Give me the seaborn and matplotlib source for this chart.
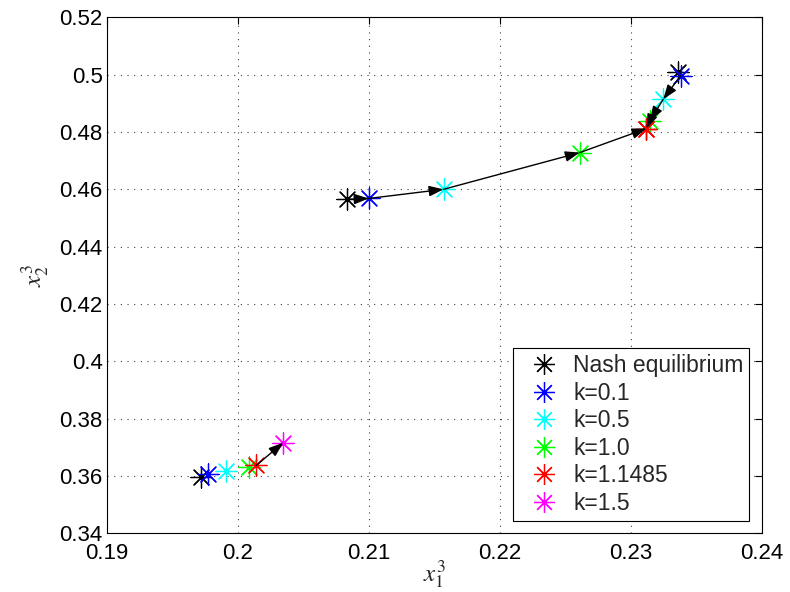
import numpy as np
import pandas as pd
import seaborn as sns
import matplotlib
matplotlib.use("Agg")
import matplotlib.pyplot as plt
from matplotlib.lines import Line2D

# ---- data (three trajectories: lower, middle, upper) ----
nash_x = [0.19716, 0.20835, 0.23360]
nash_y = [0.3598, 0.4565, 0.5008]
k01_x = [0.19775, 0.20998, 0.23378]
k01_y = [0.3606, 0.4568, 0.4996]
k05_x = [0.19912, 0.21570, 0.23246]
k05_y = [0.3617, 0.4600, 0.4914]
k10_x = [0.20086, 0.22609, 0.23144]
k10_y = [0.3631, 0.4728, 0.4839]
k11485_x = [0.20141, 0.23118, 0.23118]
k11485_y = [0.3637, 0.4812, 0.4812]
k15_x = [0.20346, np.nan, np.nan]
k15_y = [0.3716, np.nan, np.nan]

labels = ["Nash equilibrium", "k=0.1", "k=0.5", "k=1.0", "k=1.1485", "k=1.5"]
colors = ["#000000", "#0000ff", "#00ffff", "#00ff00", "#ff0000", "#ff00ff"]
series_x = [nash_x, k01_x, k05_x, k10_x, k11485_x, k15_x]
series_y = [nash_y, k01_y, k05_y, k10_y, k11485_y, k15_y]

# arrows drawn between consecutive points (index pairs into the series list), per trajectory
arrows_lower = [(4, 5)]
arrows_middle = [(0, 1), (1, 2), (2, 3), (3, 4)]
arrows_upper = [(1, 2), (2, 3), (3, 4)]
arrow_sets = [arrows_lower, arrows_middle, arrows_upper]

x_ticks = [0.19, 0.20, 0.21, 0.22, 0.23, 0.24]
x_ticklabels = ["0.19", "0.2", "0.21", "0.22", "0.23", "0.24"]
y_ticks = [0.34, 0.36, 0.38, 0.40, 0.42, 0.44, 0.46, 0.48, 0.50, 0.52]
y_ticklabels = ["0.34", "0.36", "0.38", "0.4", "0.42", "0.44", "0.46", "0.48", "0.5", "0.52"]

rows = []
for si, (lab, xs, ys) in enumerate(zip(labels, series_x, series_y)):
    for traj, (xv, yv) in enumerate(zip(xs, ys)):
        rows.append({"label": lab, "series": si, "traj": traj, "x": xv, "y": yv})
df = pd.DataFrame(rows)

# ---- style ----
sns.set_theme(style="white")
plt.rcParams["font.family"] = ["Liberation Sans", "DejaVu Sans"]
plt.rcParams["mathtext.fontset"] = "stix"

fig = plt.figure(figsize=(7.9, 5.92), dpi=100)
ax = fig.add_axes([0.1351, 0.0991, 0.9646 - 0.1351, 0.9708 - 0.0991])

star = (8, 2, 0)
for lab, col in zip(labels, colors):
    sub = df[df["label"] == lab].dropna()
    sns.scatterplot(data=sub, x="x", y="y", ax=ax, marker=star, s=230,
                    color=col, linewidth=0.9, legend=False, zorder=3)

for traj, segs in enumerate(arrow_sets):
    sub = df[df["traj"] == traj].set_index("series")
    for a, b in segs:
        x0, y0 = sub.loc[a, "x"], sub.loc[a, "y"]
        x1, y1 = sub.loc[b, "x"], sub.loc[b, "y"]
        ax.annotate("", xy=(x1, y1), xytext=(x0, y0),
                    arrowprops=dict(arrowstyle="-|>,head_length=0.55,head_width=0.2",
                                    color="black", lw=1.0,
                                    mutation_scale=16, shrinkA=0, shrinkB=0),
                    zorder=5)

ax.set_xlim(0.19, 0.24)
ax.set_ylim(0.34, 0.52)
ax.set_xticks(x_ticks)
ax.set_xticklabels(x_ticklabels)
ax.set_yticks(y_ticks)
ax.set_yticklabels(y_ticklabels)
ax.tick_params(axis="both", which="both", direction="in", length=5, width=0.8,
               top=True, right=True, labelsize=16, colors="black")
ax.tick_params(axis="x", pad=7)
ax.tick_params(axis="y", pad=3)
ax.grid(True, linestyle=(0, (1, 5)), color="black", linewidth=0.8, alpha=0.75)
for sp in ax.spines.values():
    sp.set_color("black")
    sp.set_linewidth(0.8)
    sp.set_visible(True)

ax.set_xlabel(r"$x_{\mathit{1}}^{3}$", fontsize=18, labelpad=-4)
ax.set_ylabel(r"$x_{\mathit{2}}^{3}$", fontsize=18, labelpad=6)

handles = [Line2D([], [], linestyle="none", marker=star, markersize=15,
                  markeredgewidth=0.9, color=c) for c in colors]
leg = ax.legend(handles, labels, loc="lower right", fontsize=16.5,
                frameon=True, fancybox=False, framealpha=1, edgecolor="black",
                borderpad=0.25, labelspacing=0.2, handlelength=2.2,
                handletextpad=0.2, borderaxespad=0.55)
leg.get_frame().set_linewidth(0.8)

fig.savefig("out.png", dpi=100)
